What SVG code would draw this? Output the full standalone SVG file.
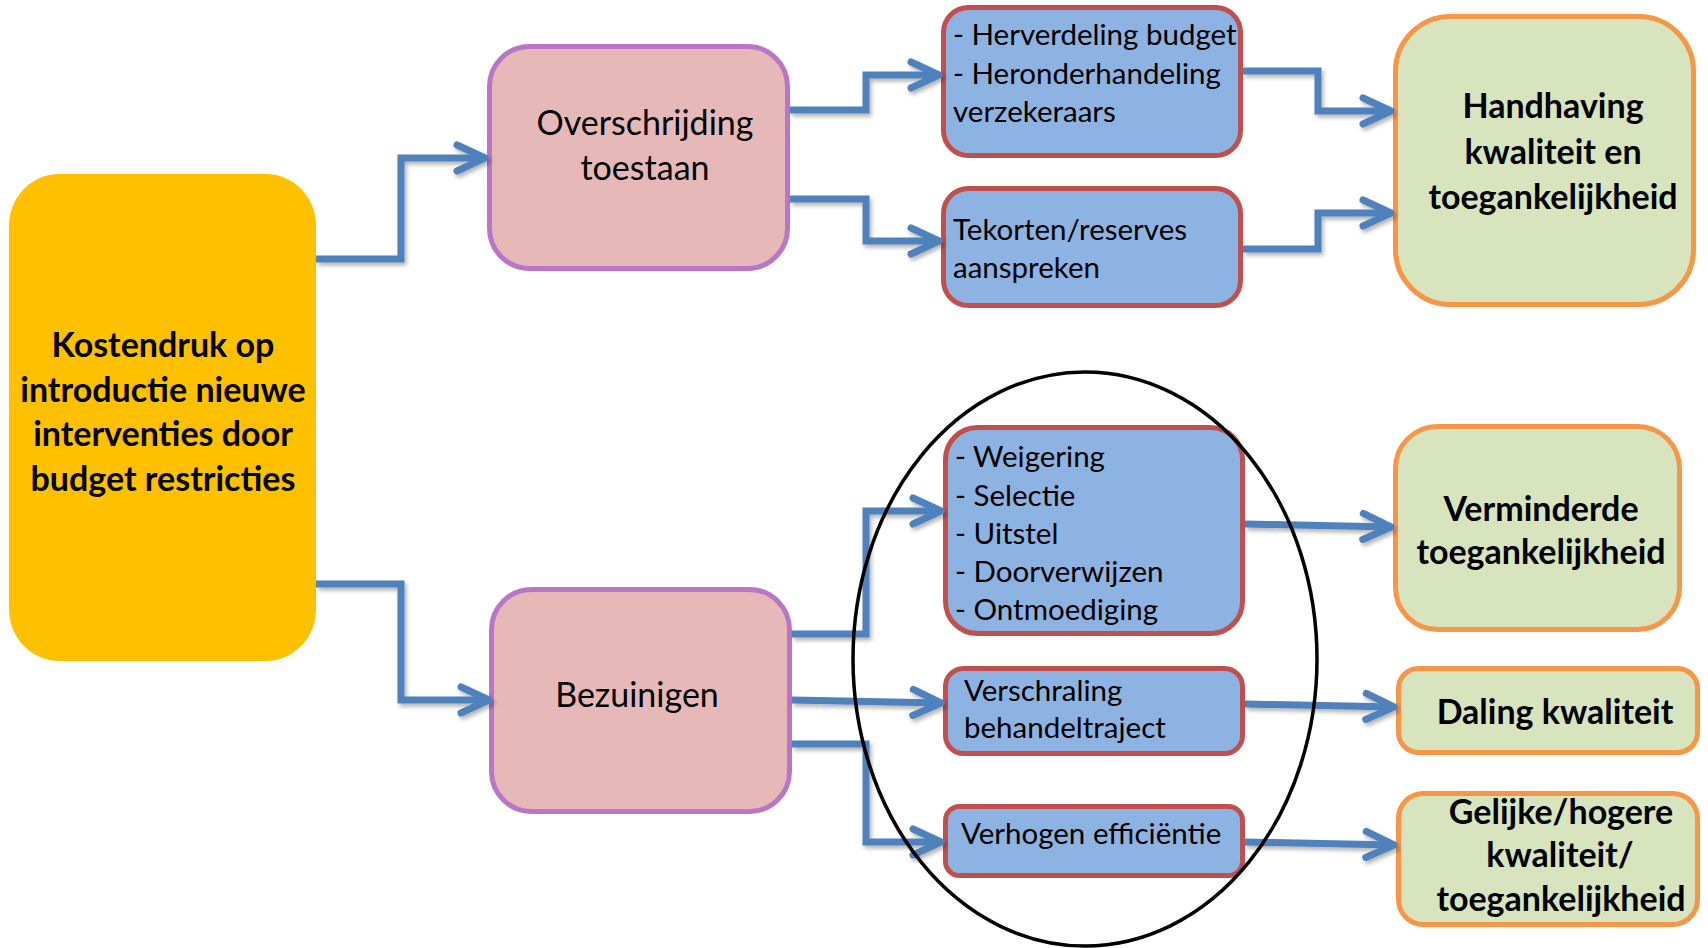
<svg xmlns="http://www.w3.org/2000/svg" width="1708" height="948" viewBox="0 0 1708 948">
<style>
.txt{font-family:Lato,"Open Sans","Liberation Sans",sans-serif;fill:#000}
.b{font-weight:bold;font-size:34px}
.r{font-size:29.5px}
.p{font-size:34px}
.mid{text-anchor:middle}
.pink{fill:#E6B9B8;stroke:#B976C6;stroke-width:5}
.blue{fill:#8DB3E2;stroke:#C0504D;stroke-width:5}
.green{fill:#D7E4BD;stroke:#F79646;stroke-width:5}
.con{fill:none;stroke:#4F81BD;stroke-width:7;stroke-linejoin:miter;marker-end:url(#arr)}
</style>
<defs>
<marker id="arr" markerUnits="userSpaceOnUse" markerWidth="44" markerHeight="44" viewBox="-36 -22 44 44" refX="0" refY="0" orient="auto" overflow="visible">
<path d="M-28,-13 L0,0 L-28,13" fill="none" stroke="#4F81BD" stroke-width="7" stroke-linecap="round" stroke-linejoin="round"/>
</marker>
<filter id="sh" x="-10%" y="-10%" width="120%" height="130%">
<feDropShadow dx="2" dy="3" stdDeviation="2" flood-color="#000" flood-opacity="0.3"/>
</filter>
</defs>
<rect width="1708" height="948" fill="#fff"/>

<g id="kostendruk">
<rect x="9" y="174" width="307" height="487" rx="50" ry="52" fill="#FFC000"/>
<text class="txt b mid" x="163" y="357">Kostendruk op</text>
<text class="txt b mid" x="163" y="401.5">introductie nieuwe</text>
<text class="txt b mid" x="163" y="446">interventies door</text>
<text class="txt b mid" x="163" y="490.5">budget restricties</text>
</g>

<g id="overschrijding">
<rect class="pink" x="489.5" y="46.5" width="298" height="222" rx="40"/>
<text class="txt p mid" x="645" y="135">Overschrijding</text>
<text class="txt p mid" x="645" y="180">toestaan</text>
</g>

<g id="bezuinigen">
<rect class="pink" x="491.5" y="589.5" width="298" height="222" rx="40"/>
<text class="txt p mid" x="637" y="707">Bezuinigen</text>
</g>

<g id="herverdeling">
<rect class="blue" x="943.5" y="7.5" width="297" height="148" rx="25"/>
<text class="txt r" x="953" y="45">- Herverdeling budget</text>
<text class="txt r" x="953" y="83.5">- Heronderhandeling</text>
<text class="txt r" x="953" y="122">verzekeraars</text>
</g>

<g id="tekorten">
<rect class="blue" x="943.5" y="188.5" width="297" height="117" rx="25"/>
<text class="txt r" x="953" y="240">Tekorten/reserves</text>
<text class="txt r" x="953" y="278">aanspreken</text>
</g>

<g id="weigering">
<rect class="blue" x="945.5" y="427.5" width="297" height="206" rx="32"/>
<text class="txt r" x="955" y="467">- Weigering</text>
<text class="txt r" x="955" y="505.5">- Selectie</text>
<text class="txt r" x="955" y="543.5">- Uitstel</text>
<text class="txt r" x="955" y="581.5">- Doorverwijzen</text>
<text class="txt r" x="955" y="620">- Ontmoediging</text>
</g>

<g id="verschraling">
<rect class="blue" x="945.5" y="668.5" width="297" height="85" rx="18"/>
<text class="txt r" x="964" y="701">Verschraling</text>
<text class="txt r" x="964" y="738">behandeltraject</text>
</g>

<g id="verhogen">
<rect class="blue" x="945.5" y="806.5" width="297" height="69" rx="14"/>
<text class="txt r" x="961" y="844">Verhogen efficiëntie</text>
</g>

<g id="handhaving">
<rect class="green" x="1395.5" y="16.5" width="298" height="288" rx="55"/>
<text class="txt b mid" x="1553" y="118">Handhaving</text>
<text class="txt b mid" x="1553" y="164">kwaliteit en</text>
<text class="txt b mid" x="1553" y="209">toegankelijkheid</text>
</g>

<g id="verminderde">
<rect class="green" x="1395.5" y="426.5" width="284" height="203" rx="42"/>
<text class="txt b mid" x="1541" y="521">Verminderde</text>
<text class="txt b mid" x="1541" y="564">toegankelijkheid</text>
</g>

<g id="daling">
<rect class="green" x="1398.5" y="668.5" width="299" height="84" rx="20"/>
<text class="txt b mid" x="1555" y="724">Daling kwaliteit</text>
</g>

<g id="gelijke">
<rect class="green" x="1398.5" y="793.5" width="299" height="131" rx="25"/>
<text class="txt b mid" x="1561" y="824">Gelijke/hogere</text>
<text class="txt b mid" x="1560" y="867">kwaliteit/</text>
<text class="txt b mid" x="1561" y="911">toegankelijkheid</text>
</g>

<g id="connectors" filter="url(#sh)">
<path class="con" d="M316,259 H401 V158 H485"/>
<path class="con" d="M316,584 H401 V700 H489"/>
<path class="con" d="M790,110 H866 V75 H939"/>
<path class="con" d="M790,199 H866 V241 H939"/>
<path class="con" d="M1243,71 H1318 V111 H1391"/>
<path class="con" d="M1243,249 H1318 V213 H1391"/>
<path class="con" d="M792,634 H866 V511 H941"/>
<path class="con" d="M792,700 L941,703"/>
<path class="con" d="M792,744 H866 V842 H941"/>
<path class="con" d="M1245,524 L1391,527"/>
<path class="con" d="M1245,704 L1394,707"/>
<path class="con" d="M1245,842 L1394,845"/>
</g>

<g id="ellipse">
<ellipse cx="1085" cy="659" rx="232" ry="287" fill="none" stroke="#000" stroke-width="3.5"/>
</g>
</svg>
